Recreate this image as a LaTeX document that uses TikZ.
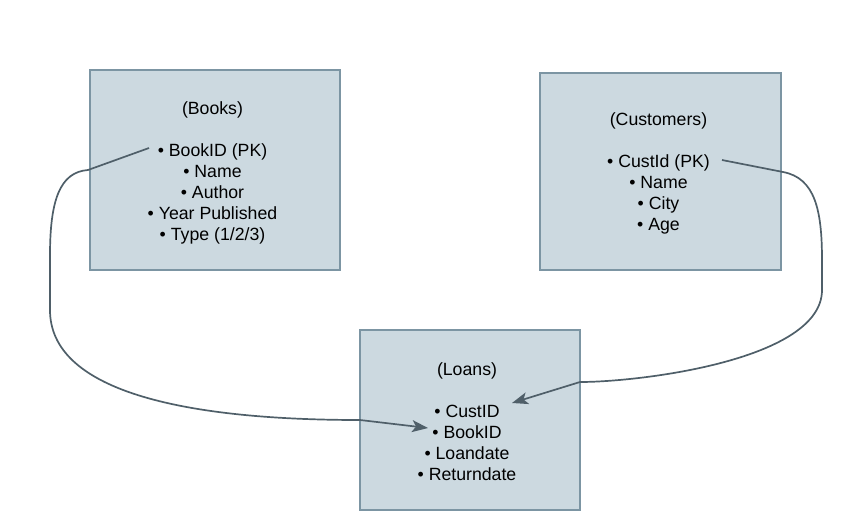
\documentclass[tikz,border=0pt]{standalone}
\usepackage{fontspec}
\setmainfont{Liberation Sans}
\usetikzlibrary{arrows.meta}
\definecolor{boxfill}{HTML}{CCD9E0}
\definecolor{boxline}{HTML}{7C95A3}
\definecolor{linkcol}{HTML}{4F5F69}
\begin{document}
\begin{tikzpicture}[x=1pt,y=-1pt,
  entity/.style={draw=boxline, fill=boxfill, line width=1.6pt, inner sep=0pt},
  entitytext/.style={align=center, inner sep=0pt, font=\fontsize{17.7}{21}\selectfont},
  link/.style={draw=linkcol, line width=1.7pt,
    -{Stealth[length=16pt,width=12pt,inset=4pt]}}]
\useasboundingbox (0,0) rectangle (845,530);
\node[entity, minimum width=250pt, minimum height=200pt] (books) at (215,170) {};
\node[entitytext] (bookstext) at (212.5,172.5)
  {(Books)\\[21pt] • BookID (PK)\\ • Name\\ • Author\\ • Year Published\\ • Type (1/2/3)};
\node[entity, minimum width=241pt, minimum height=197pt] (customers) at (660.5,171.5) {};
\node[entitytext] (customerstext) at (658.5,173)
  {(Customers)\\[21pt] • CustId (PK)\\ • Name\\ • City\\ • Age};
\node[entity, minimum width=220pt, minimum height=180pt] (loans) at (470,420) {};
\node[entitytext] (loanstext) at (467,421.5)
  {(Loans)\\[21pt] • CustID\\ • BookID\\ • Loandate\\ • Returndate};
\coordinate (b1) at (149,148);
\coordinate (k1) at (88,170);
\coordinate (j1) at (360,420);
\coordinate (t1) at (428,428);
\coordinate (c1) at (722,160);
\coordinate (k2) at (783,172);
\coordinate (j2) at (580,382);
\coordinate (t2) at (512,403);
\draw[link] (b1) -- (k1) .. controls (60,172) and (50,200) .. (50,255) -- (50,310)
  .. controls (50,390) and (180,420) .. (j1) -- (t1);
\draw[link] (c1) -- (k2) .. controls (815,178) and (822,210) .. (822,260) -- (822,290)
  .. controls (822,360) and (640,382) .. (j2) -- (t2);
\end{tikzpicture}
\end{document}
